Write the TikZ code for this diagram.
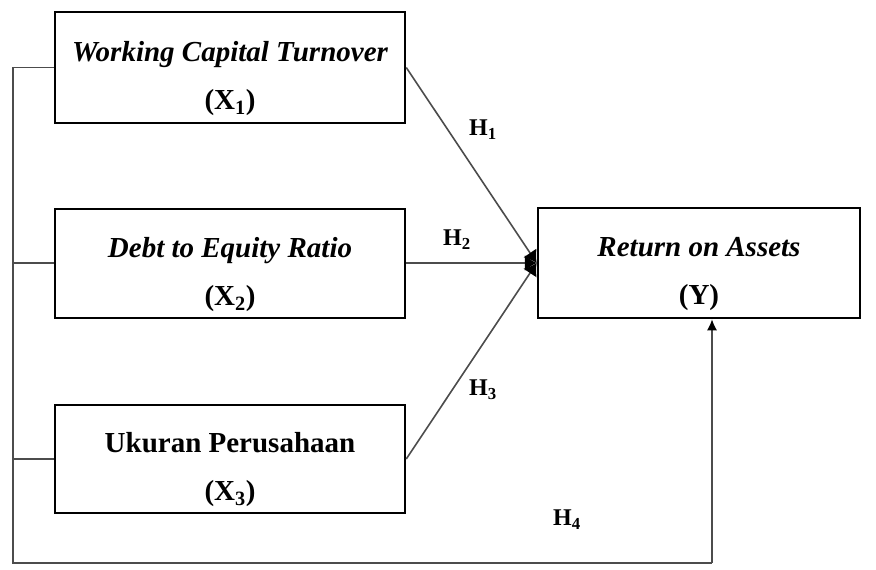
\documentclass[tikz,border=0pt]{standalone}
\usepackage{amsmath,amssymb}
\usepackage{fontspec}
\setmainfont{Liberation Serif}
\usepackage{tikz}
\usepackage{xcolor}
\usetikzlibrary{arrows.meta}

\tikzset{
  varbox/.style={draw=black, line width=2.5pt, minimum width=350pt, minimum height=109pt,
    align=center, font=\fontsize{29}{48}\selectfont\bfseries, inner sep=0pt},
  link/.style={draw=black!70, line width=1.6pt},
  tip/.style={-{Latex[length=12pt,width=16pt,black]}},
  hlabel/.style={font=\fontsize{24}{26}\selectfont\bfseries}
}

\begin{document}
\begin{tikzpicture}[x=1pt, y=-1pt]
\useasboundingbox (0,0) rectangle (876,570);
\node[varbox, minimum height=111pt] (x1) at (230,67.5) {\rule{0pt}{42pt}\itshape Working Capital Turnover\\(X\textsubscript{1})};
\node[varbox] (x2) at (230,263.5) {\rule{0pt}{42pt}\itshape Debt to Equity Ratio\\(X\textsubscript{2})};
\node[varbox, minimum height=108pt] (x3) at (230,459) {\rule{0pt}{42pt}Ukuran Perusahaan\\(X\textsubscript{3})};
\node[varbox, minimum width=322pt, minimum height=110pt] (y) at (699,263) {\rule{0pt}{42pt}\itshape Return on Assets\\(Y)};

\coordinate (bus) at (13,563);
\coordinate (h4) at (712,563);

% hypotheses to Y
\draw[link, tip] (x1.east) -- (y.west);
\draw[link, tip] (x2.east |- y.west) -- (y.west);
\draw[link, tip] (x3.east) -- (y.west);

% joint path
\draw[link] (x1.west) -- (x1.west -| bus) -- (bus) -- (h4);
\draw[link] (x2.west |- y.west) -- (bus |- y.west);
\draw[link] (x3.west) -- (x3.west -| bus);
\draw[link, -{Latex[length=11pt,width=10pt,black]}] (h4) -- (h4 |- y.south);

\node[hlabel] (h1) at (483,130) {H\textsubscript{1}};
\node[hlabel] (h2) at (457,240) {H\textsubscript{2}};
\node[hlabel] (h3) at (483,390) {H\textsubscript{3}};
\node[hlabel] (h4l) at (567,520) {H\textsubscript{4}};
\end{tikzpicture}
\end{document}
